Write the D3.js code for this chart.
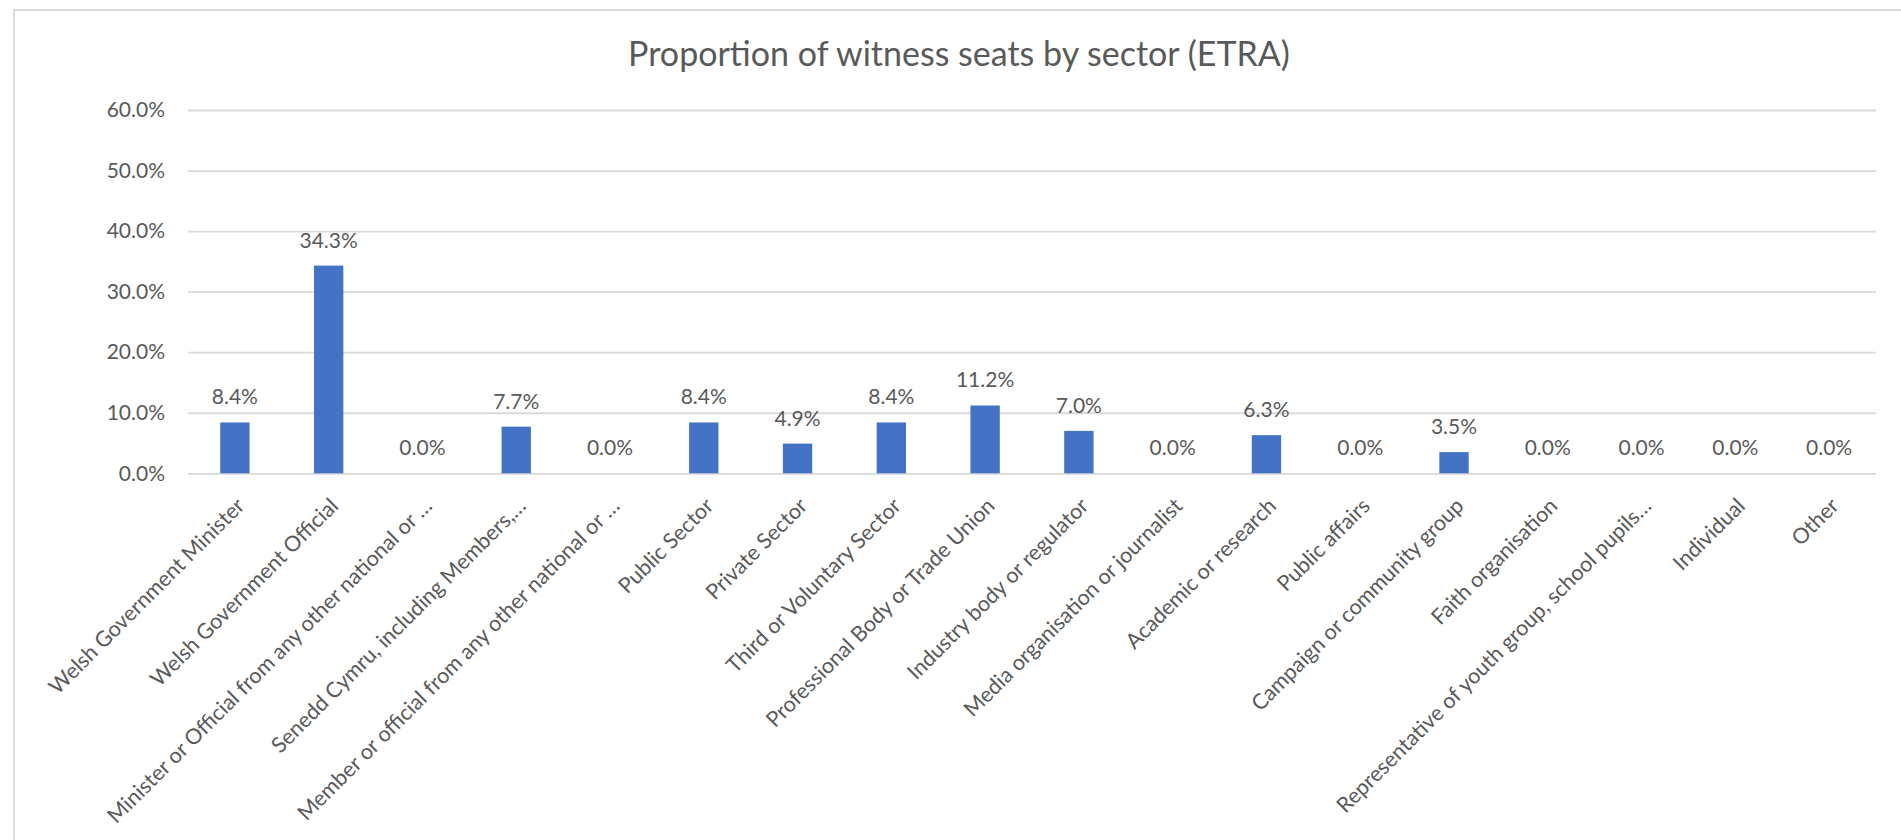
<!DOCTYPE html>
<html>
<head>
<meta charset="utf-8">
<script src="https://cdn.jsdelivr.net/npm/d3@7/dist/d3.min.js"></script>
<style>
  html, body { margin: 0; padding: 0; background: #ffffff; }
  svg { display: block; font-family: Lato, "Open Sans", "Liberation Sans", sans-serif; }
</style>
</head>
<body>
<svg id="chart" width="1901" height="840"></svg>
<script>
const chartTitle = "Proportion of witness seats by sector (ETRA)";
const categories = [
  "Welsh Government Minister",
  "Welsh Government Official",
  "Minister or Official from any other national or …",
  "Senedd Cymru, including Members,…",
  "Member or official from any other national or …",
  "Public Sector",
  "Private Sector",
  "Third or Voluntary Sector",
  "Professional Body or Trade Union",
  "Industry body or regulator",
  "Media organisation or journalist",
  "Academic or research",
  "Public affairs",
  "Campaign or community group",
  "Faith organisation",
  "Representative of youth group, school pupils…",
  "Individual",
  "Other"
];
const values = [8.4, 34.3, 0.0, 7.7, 0.0, 8.4, 4.9, 8.4, 11.2, 7.0, 0.0, 6.3, 0.0, 3.5, 0.0, 0.0, 0.0, 0.0];
const yTicks = [0, 10, 20, 30, 40, 50, 60];

const svg = d3.select("#chart");
const W = 1901, H = 840;
const plot = { left: 188, right: 1876, top: 110, bottom: 473.3 };
const textColor = "#595959";
const gridColor = "#d9d9d9";
const barColor = "#4472c4";

// outer chart border (right and bottom edges fall outside the picture)
svg.append("rect")
  .attr("x", 14).attr("y", 10)
  .attr("width", W + 20).attr("height", H + 20)
  .attr("fill", "none").attr("stroke", gridColor).attr("stroke-width", 2);

const x = d3.scaleBand().domain(categories).range([plot.left, plot.right]).padding(0);
const y = d3.scaleLinear().domain([0, 60]).range([plot.bottom, plot.top]);
const fmt = v => d3.format(".1f")(v) + "%";

// title
svg.append("text")
  .attr("x", 959).attr("y", 66)
  .attr("text-anchor", "middle")
  .attr("fill", textColor)
  .attr("font-size", 34)
  .text(chartTitle);

// gridlines + y labels
const yAxis = d3.axisLeft(y).tickValues(yTicks).tickFormat(fmt)
  .tickSize(-(plot.right - plot.left)).tickPadding(23);
const gy = svg.append("g").attr("transform", `translate(${plot.left},0)`).call(yAxis);
gy.select(".domain").remove();
gy.selectAll(".tick line").attr("stroke", gridColor).attr("stroke-width", 1.8);
gy.selectAll(".tick text").attr("fill", textColor).attr("font-size", 21)
  .attr("font-family", "Lato, 'Open Sans', sans-serif");

// x axis labels
const xAxis = d3.axisBottom(x).tickSize(0).tickPadding(0);
const gx = svg.append("g").attr("transform", `translate(0,${plot.bottom})`).call(xAxis);
gx.select(".domain").remove();
gx.selectAll(".tick text")
  .attr("fill", textColor).attr("font-size", 21.5)
  .attr("font-family", "Lato, 'Open Sans', sans-serif")
  .attr("text-anchor", "end")
  .attr("dy", 0)
  .attr("y", 0)
  .attr("transform", "translate(11,34) rotate(-45)");

// bars
const barFrac = 0.313;
const bw = x.bandwidth() * barFrac;
svg.append("g").selectAll("rect").data(values).join("rect")
  .attr("x", (d, i) => x(categories[i]) + x.bandwidth() / 2 - bw / 2)
  .attr("y", d => y(d))
  .attr("width", bw)
  .attr("height", d => y(0) - y(d))
  .attr("fill", barColor);

// data labels
svg.append("g").selectAll("text").data(values).join("text")
  .attr("x", (d, i) => x(categories[i]) + x.bandwidth() / 2)
  .attr("y", d => y(d) - 18)
  .attr("text-anchor", "middle")
  .attr("fill", textColor)
  .attr("font-size", 21)
  .text(d => fmt(d));
</script>
</body>
</html>
